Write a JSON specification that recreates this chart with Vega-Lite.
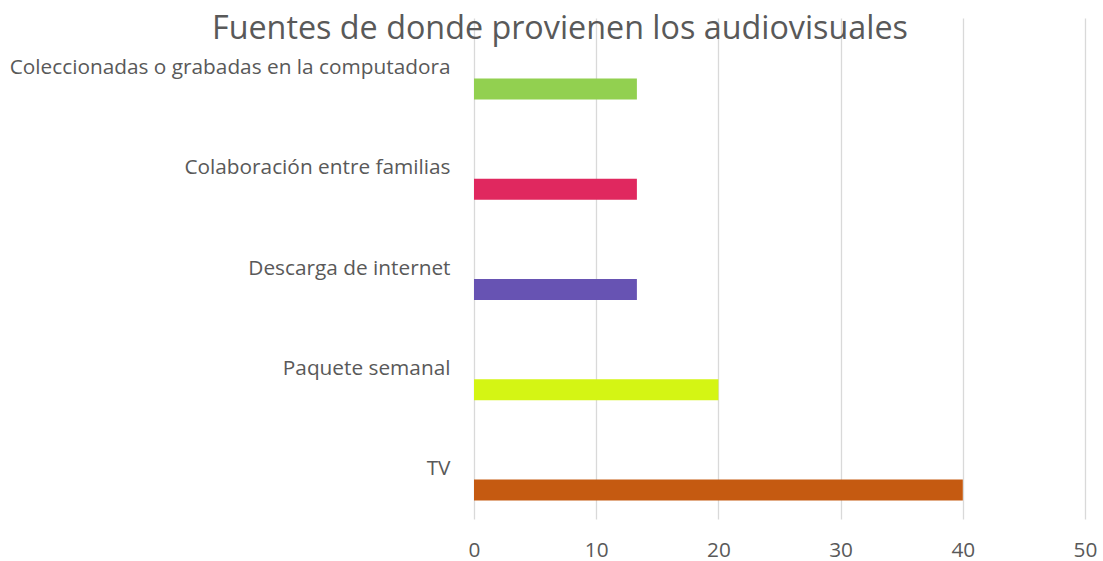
{
  "$schema": "https://vega.github.io/schema/vega-lite/v6.json",
  "width": 611,
  "height": 501,
  "autosize": {"type": "none"},
  "padding": {"left": 474, "top": 18, "right": 18, "bottom": 42},
  "background": "white",
  "title": {
    "text": "Fuentes de donde provienen los audiovisuales",
    "font": "Open Sans",
    "fontSize": 32.3,
    "fontWeight": "normal",
    "color": "#595959",
    "anchor": "start",
    "frame": "group",
    "dx": -262,
    "offset": -27
  },
  "data": {
    "values": [
      {"fuente": "Coleccionadas o grabadas en la computadora", "valor": 13.33},
      {"fuente": "Colaboración entre familias", "valor": 13.33},
      {"fuente": "Descarga de internet", "valor": 13.33},
      {"fuente": "Paquete semanal", "valor": 20},
      {"fuente": "TV", "valor": 40}
    ]
  },
  "mark": {"type": "bar", "height": 21, "yOffset": 21},
  "encoding": {
    "y": {
      "field": "fuente",
      "type": "nominal",
      "sort": null,
      "scale": {"paddingInner": 0, "paddingOuter": 0},
      "axis": {
        "title": null,
        "domain": false,
        "ticks": false,
        "grid": false,
        "labelFont": "Open Sans",
        "labelFontSize": 20.8,
        "labelColor": "#595959",
        "labelPadding": 24,
        "labelLimit": 600
      }
    },
    "x": {
      "field": "valor",
      "type": "quantitative",
      "scale": {"domain": [0, 50], "nice": false},
      "axis": {
        "title": null,
        "values": [0, 10, 20, 30, 40, 50],
        "domain": false,
        "ticks": false,
        "grid": true,
        "gridColor": "#D9D9D9",
        "gridWidth": 1.3,
        "labelFont": "Open Sans",
        "labelFontSize": 20.8,
        "labelColor": "#595959",
        "labelPadding": 21,
        "labelFlush": false
      }
    },
    "color": {
      "field": "fuente",
      "type": "nominal",
      "scale": {
        "domain": ["Coleccionadas o grabadas en la computadora", "Colaboración entre familias", "Descarga de internet", "Paquete semanal", "TV"],
        "range": ["#92D050", "#E0285F", "#6753B3", "#D4F514", "#C55A11"]
      },
      "legend": null
    }
  },
  "config": {"view": {"stroke": null}}
}
